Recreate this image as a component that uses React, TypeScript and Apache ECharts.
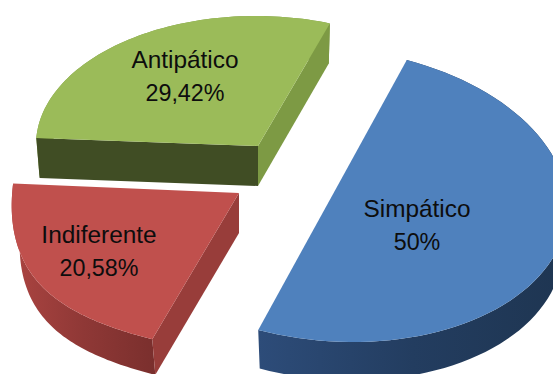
import React, { useEffect, useRef } from "react";
import * as echarts from "echarts";

// Survey shares, in drawing order (clockwise from the first wedge's edge)
const categories = ["Simpático", "Indiferente", "Antipático"];
const shares = [50, 20.58, 29.42];
const shareLabels = ["50%", "20,58%", "29,42%"];

const START_ANGLE = 70.6;
const DEPTH = 40;

// Each wedge is pulled out by hand and seen in perspective, so it has its own
// ellipse. "sag" pushes the rim towards the viewer, "lean" moves that sag to the
// wedge's first edge, and scaleX/scaleY shrink the underside of the slab.
const wedgeViews = [
  {
    cx: 332.5, cy: 195, rx: 235, ry: 143, shear: -4, sag: 11, lean: 0,
    scaleX: 0.98, scaleY: 0.99,
    top: "#4f81bd",
    wall: ["#2d4c79", "#233d60", "#1e3551"],
    firstFace: null, lastFace: null,
    labelX: 417, labelY: 225,
  },
  {
    cx: 239, cy: 193, rx: 227, ry: 155, shear: 12, sag: 18, lean: 1,
    scaleX: 0.965, scaleY: 0.97,
    top: "#c0504d",
    wall: ["#ab4441", "#8f3836", "#7a2f2d"],
    firstFace: "#983d3a", lastFace: null,
    labelX: 99, labelY: 251,
  },
  {
    cx: 258, cy: 146, rx: 222, ry: 130, shear: -2, sag: 0, lean: 0,
    scaleX: 0.985, scaleY: 1,
    top: "#9bbb59",
    wall: ["#7d9a44", "#7d9a44", "#7d9a44"],
    firstFace: "#404d24", lastFace: "#7d9a44",
    labelX: 185, labelY: 76,
  },
];

type View = (typeof wedgeViews)[number];

function arcPoints(v: View, from: number, to: number) {
  const steps = 72;
  const pts: number[][] = [];
  for (let i = 0; i <= steps; i++) {
    const u = i / steps;
    const t = ((from + (to - from) * u) * Math.PI) / 180;
    // u runs from the wedge's arc start; lean is measured from its far end
    const far = v.lean ? 1 - u : u;
    pts.push([
      v.cx + v.rx * Math.cos(t) + v.shear * Math.sin(t),
      v.cy - v.ry * Math.sin(t) + v.sag * Math.sin(Math.PI * u) * (1 - v.lean * far),
    ]);
  }
  return pts;
}

// The same point on the underside of the slab
const under = (v: View, p: number[]) => [
  v.cx + (p[0] - v.cx) * v.scaleX,
  v.cy + (p[1] - v.cy) * v.scaleY + DEPTH,
];

const polygon = (points: number[][], fill: unknown) => ({
  type: "polygon",
  shape: { points },
  style: { fill },
});

const labelRich = {
  name: { fontSize: 24.4, fontFamily: '"Liberation Sans", Arial, sans-serif', lineHeight: 33, fill: "#0d0d0d" },
  share: { fontSize: 23.3, fontFamily: '"Liberation Sans", Arial, sans-serif', lineHeight: 33, fill: "#0d0d0d" },
};

export default function App() {
  const ref = useRef<HTMLDivElement>(null);

  useEffect(() => {
    const chart = echarts.init(ref.current!, null, { renderer: "svg" });
    const total = shares.reduce((a, b) => a + b, 0);

    const renderItem = (params: any, api: any) => {
      const i = params.dataIndex;
      const v = wedgeViews[i];
      const before = shares.slice(0, i).reduce((a, b) => a + b, 0);
      const from = START_ANGLE - (before / total) * 360;
      const to = from - (api.value(0) / total) * 360;
      const arc = arcPoints(v, from, to);
      const lowArc = arc.map((p) => under(v, p));
      const children: any[] = [];

      children.push(
        polygon(
          [...arc, ...lowArc.slice().reverse()],
          new echarts.graphic.LinearGradient(0, 0, 1, 0, [
            { offset: 0, color: v.wall[0] },
            { offset: 0.5, color: v.wall[1] },
            { offset: 1, color: v.wall[2] },
          ]),
        ),
      );
      // Flat faces left by the cut, one at each end of the rim
      const face = (p: number[], fill: string) =>
        polygon([[v.cx, v.cy], p, under(v, p), [v.cx, v.cy + DEPTH]], fill);
      if (v.lastFace) children.push(face(arc[arc.length - 1], v.lastFace));
      if (v.firstFace) children.push(face(arc[0], v.firstFace));

      children.push(polygon([[v.cx, v.cy], ...arc], v.top));
      children.push({
        type: "text",
        style: {
          x: v.labelX,
          y: v.labelY,
          text: `{name|${categories[i]}}\n{share|${shareLabels[i]}}`,
          rich: labelRich,
          align: "center",
          verticalAlign: "middle",
        },
      });
      return { type: "group", children };
    };

    chart.setOption({
      animation: false,
      backgroundColor: "#ffffff",
      series: [
        {
          type: "custom",
          coordinateSystem: "none",
          renderItem,
          clip: false,
          data: shares.map((s, i) => ({ name: categories[i], value: [s] })),
        },
      ],
    });
    return () => chart.dispose();
  }, []);

  return (
    <div
      ref={ref}
      style={{ position: "absolute", left: 0, top: 0, width: 553, height: 374 }}
    />
  );
}
